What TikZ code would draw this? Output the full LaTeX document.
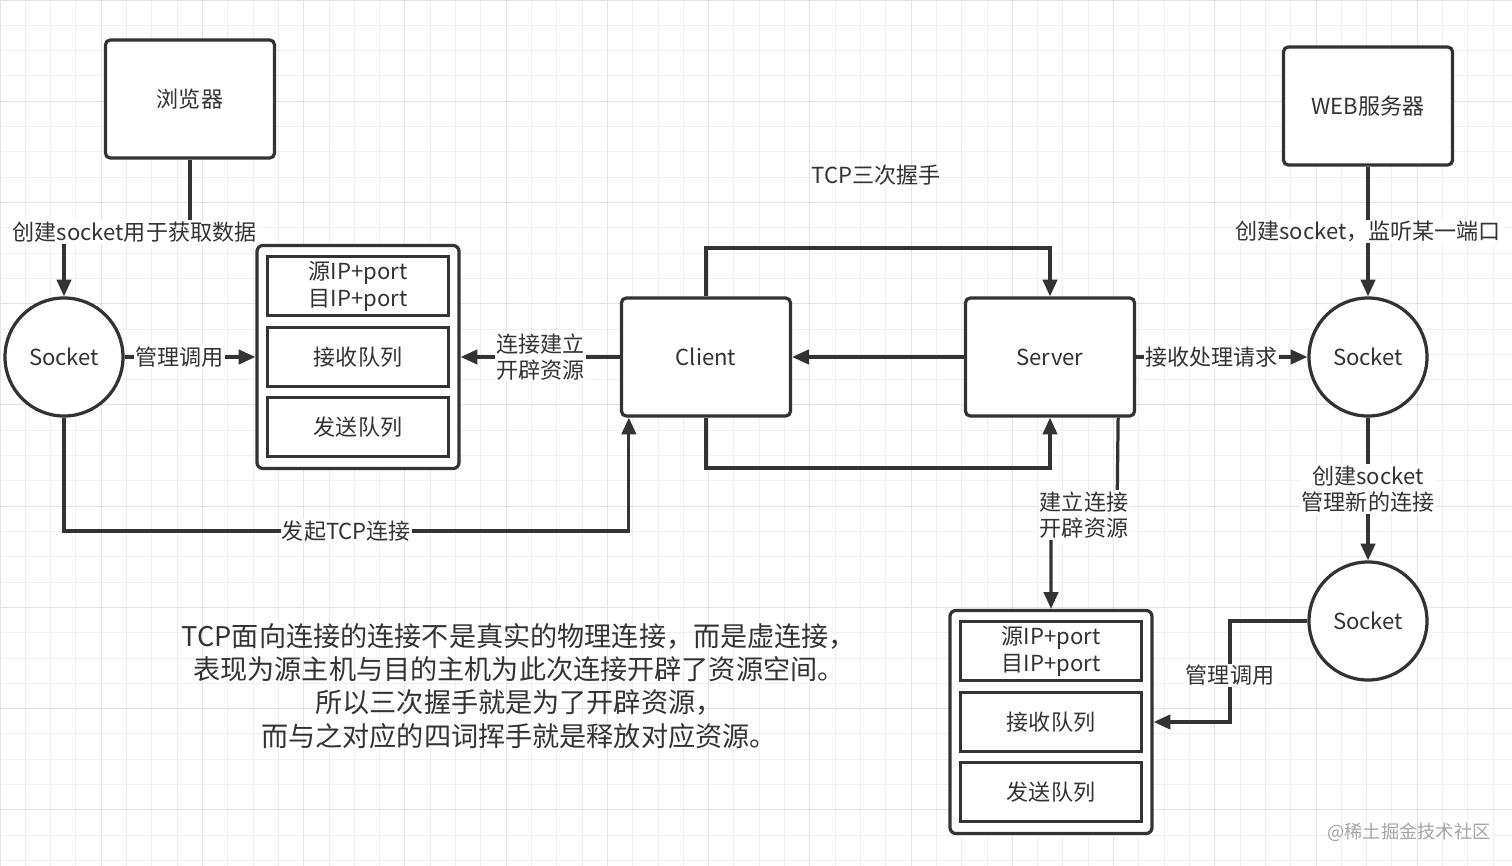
\documentclass[tikz,border=0pt]{standalone}
\usepackage{fontspec}
\setmainfont{Noto Sans CJK SC}
\usetikzlibrary{arrows.meta,positioning}
\definecolor{ink}{HTML}{333333}

\begin{document}
\begin{tikzpicture}[
    x=0.025cm, y=-0.025cm,
    every node/.style={
        text=ink,
        font=\fontsize{15.7}{18.8}\selectfont
    },
    box/.style={
        draw=ink, line width=2.3pt, fill=white,
        rounded corners=0.12cm,
        minimum width=4.225cm, minimum height=2.95cm
    },
    sock/.style={
        circle, draw=ink, line width=2.3pt, fill=white,
        inner sep=0pt, minimum size=2.95cm
    },
    holder/.style={
        draw=ink, line width=2.3pt, fill=white,
        rounded corners=0.15cm,
        minimum width=5.05cm, minimum height=5.575cm
    },
    slot/.style={
        draw=ink, line width=2.3pt,
        inner sep=0pt, align=center,
        minimum width=4.525cm, minimum height=1.475cm,
        font=\fontsize{15.7}{19.2}\selectfont
    },
    link/.style={
        draw=ink, line width=2.3pt,
        -{Triangle[length=0.42cm,width=0.36cm]}
    },
    lbl/.style={fill=white, inner sep=1pt, align=center},
    note/.style={align=center, font=\fontsize{19.3}{23.6}\selectfont},
    stamp/.style={text=black!35, font=\fontsize{13}{15}\selectfont}
]
\useasboundingbox (0,0) rectangle (1512,866);
\fill[white] (0,0) rectangle (1512,866);
\draw[black!6, line width=0.6pt, step=0.6325cm] (0,866) grid (1512,0);
\draw[black!11, line width=0.6pt, step=2.53cm] (0,866) grid (1512,0);

% hosts
\node[box] (browser) at (190,99) {浏览器};
\node[box] (web) at (1368,106) {WEB服务器};
\node[box] (client) at (706,357) {Client};
\node[box] (server) at (1050,357) {Server};

% sockets
\node[sock] (sockL) at (64,357) {Socket};
\node[sock] (sockR) at (1368,357) {Socket};
\node[sock] (sockN) at (1368,621) {Socket};

% buffers
\node[holder] (bufL) at (358,357) {};
\node[holder] (bufR) at (1051,722) {};
\foreach \b/\x/\y in {L/358/357, R/1051/722} {
    \node[slot] (addr\b) at (\x,\y-71) {源IP+port\\目IP+port};
    \node[slot] (recv\b) at (\x,\y) {接收队列};
    \node[slot] (send\b) at (\x,\y+70) {发送队列};
}

% client side
\coordinate (bendB) at (190,232);
\draw[link] (browser) -- (bendB) -| node[lbl,pos=0.22]{创建socket用于获取数据} (sockL);
\draw[link] (sockL) -- node[lbl,pos=0.42]{管理调用} (bufL);
\draw[link] (client) -- node[lbl]{连接建立\\开辟资源} (bufL);
\coordinate (bendS) at (64,531);
\draw[link] (sockL) -- (bendS) -| node[lbl,pos=0.25]{发起TCP连接} ([xshift=0.225cm]client.south west);

% handshake
\node (title) at (876,175) {TCP三次握手};
\coordinate (bendT) at (706,248);
\coordinate (bendD) at (706,468);
\draw[link] (client) -- (bendT) -| (server);
\draw[link] (server) -- (client);
\draw[link] (client) -- (bendD) -| (server);

% server side
\draw[link] (web) -- node[lbl]{创建socket，监听某一端口} (sockR);
\draw[link] (server) -- node[lbl,pos=0.44]{接收处理请求} (sockR);
\draw[link] (sockR) -- node[lbl]{创建socket\\管理新的连接} (sockN);
\coordinate (bendN) at (1230,621);
\draw[link] (sockN) -- (bendN) |- node[lbl,pos=0.27]{管理调用} (bufR);
\coordinate (bendR) at (1117,515);
\draw[link] ([xshift=-0.45cm]server.south east) -- (bendR) -| node[lbl,pos=0.25]{建立连接\\开辟资源} (bufR);

% text
\node[note] (summary) at (519,686) {TCP面向连接的连接不是真实的物理连接，而是虚连接，\\表现为源主机与目的主机为此次连接开辟了资源空间。\\所以三次握手就是为了开辟资源，\\而与之对应的四词挥手就是释放对应资源。};
\node[stamp] (source) at (1409,832) {@稀土掘金技术社区};
\end{tikzpicture}
\end{document}
